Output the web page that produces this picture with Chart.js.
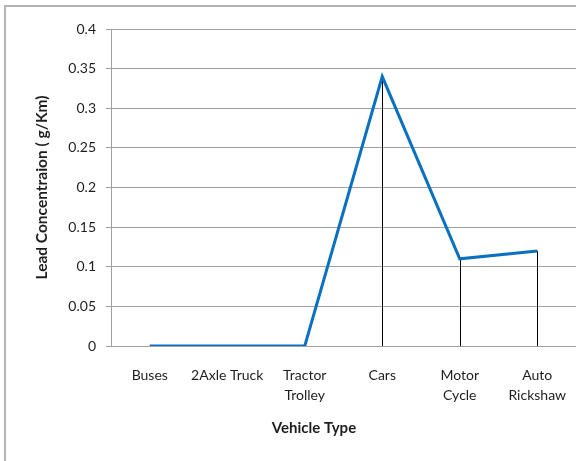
<!DOCTYPE html>
<html>
<head>
<meta charset="utf-8">
<script src="https://cdn.jsdelivr.net/npm/chart.js@4/dist/chart.umd.min.js"></script>
<style>
  html, body { margin: 0; padding: 0; background: #fff; }
  #wrap { position: relative; width: 576px; height: 461px; }
  #frame { position: absolute; left: 4px; top: 5px; right: -10px; bottom: -10px;
           border-left: 2px solid #b4b4b4; border-top: 2px solid #b4b4b4; }
  canvas { position: absolute; left: 0; top: 0; }
</style>
</head>
<body>
<div id="wrap">
  <div id="frame"></div>
  <canvas id="c" width="576" height="461"></canvas>
</div>
<script>
// Vehicle categories (multi-line labels are split into arrays)
const vehicleTypes = ['Buses', '2Axle Truck', ['Tractor', 'Trolley'], 'Cars', ['Motor', 'Cycle'], ['Auto', 'Rickshaw']];
// Lead concentration per vehicle type (g/Km)
const leadValues = [0, 0, 0, 0.34, 0.11, 0.12];
// Y axis tick labels
const yTickLabels = ['0', '0.05', '0.1', '0.15', '0.2', '0.25', '0.3', '0.35', '0.4'];

const FONT = 'Lato, "Open Sans", sans-serif';
const TEXT = '#1e1e1e';

// Vertical drop lines from each point down to the category axis
const dropLines = {
  id: 'dropLines',
  beforeDatasetsDraw(chart) {
    const { ctx } = chart;
    const x = chart.scales.x, y = chart.scales.y;
    ctx.save();
    ctx.strokeStyle = '#000';
    ctx.lineWidth = 1;
    leadValues.forEach((v, i) => {
      const px = Math.round(x.getPixelForValue(i)) + 0.5;
      ctx.beginPath();
      ctx.moveTo(px, y.getPixelForValue(v));
      ctx.lineTo(px, y.getPixelForValue(0));
      ctx.stroke();
    });
    ctx.restore();
  }
};

// Category axis title
const xTitle = {
  id: 'xTitle',
  afterDraw(chart) {
    const { ctx, chartArea } = chart;
    ctx.save();
    ctx.font = 'bold 15px ' + FONT;
    ctx.fillStyle = TEXT;
    ctx.textAlign = 'center';
    ctx.textBaseline = 'middle';
    ctx.fillText('Vehicle Type', chartArea.left + 203, 428);
    ctx.restore();
  }
};

new Chart(document.getElementById('c'), {
  type: 'line',
  data: {
    labels: vehicleTypes,
    datasets: [{
      data: leadValues,
      borderColor: '#0a70c0',
      borderWidth: 3,
      pointRadius: 0,
      tension: 0,
      fill: false
    }]
  },
  options: {
    responsive: false,
    animation: false,
    layout: { padding: { top: 29, right: 0, left: 0, bottom: 0 } },
    plugins: { legend: { display: false }, tooltip: { enabled: false } },
    scales: {
      x: {
        offset: true,
        grid: { display: false, drawTicks: false },
        border: { color: '#a0a0a0', width: 1 },
        ticks: { color: TEXT, font: { family: FONT, size: 14, lineHeight: 1.45 }, padding: 19, maxRotation: 0, autoSkip: false },
        afterFit(s) { s.height = 115; s.paddingLeft = 0; s.paddingRight = 0; }
      },
      y: {
        min: 0, max: 0.4,
        grid: { color: '#a0a0a0', lineWidth: 1, tickLength: 5 },
        border: { color: '#a0a0a0', width: 1 },
        ticks: {
          stepSize: 0.05, color: TEXT, padding: 10,
          font: { family: FONT, size: 14 },
          callback: (v, i) => yTickLabels[i]
        },
        title: {
          display: true, text: 'Lead Concentraion ( g/Km)', color: TEXT,
          font: { family: FONT, size: 15.5, weight: 'bold' },
          padding: { top: 33, bottom: 0 }
        },
        afterFit(s) { s.width = 111; s.paddingTop = 0; s.paddingBottom = 0; }
      }
    }
  },
  plugins: [dropLines, xTitle]
});
</script>
</body>
</html>
